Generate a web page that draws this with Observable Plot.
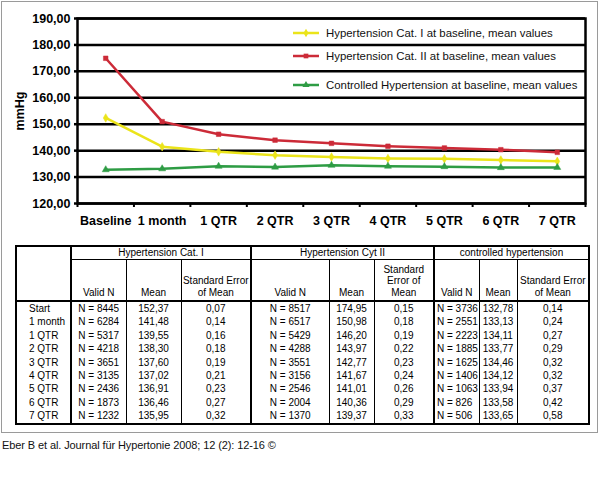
<!DOCTYPE html>
<html>
<head>
<meta charset="utf-8">
<script src="https://cdn.jsdelivr.net/npm/d3@7"></script>
<script src="https://cdn.jsdelivr.net/npm/@observablehq/plot@0.6"></script>
<style>
  html, body { margin: 0; padding: 0; background: #fff; }
  body { width: 600px; height: 494px; position: relative; overflow: hidden; font-family: "Liberation Sans", Arial, sans-serif; }
  #chart { position: absolute; left: 0; top: 0; }
  #frame { position: absolute; left: 1px; top: 1px; width: 595px; height: 430px; border: 1px solid #9a9a9a; pointer-events: none; }
  #legend { position: absolute; left: 0; top: 0; }
  .leg { position: absolute; left: 293px; height: 14px; display: flex; align-items: center; font-size: 11.4px; color: #111; white-space: nowrap; }
  .leg svg { margin-right: 7px; }
  table { position: absolute; left: 15px; top: 245px; width: 573px; border-collapse: collapse; table-layout: fixed; font-size: 10px; color: #000; border: 2px solid #000; }
  td, th { padding: 0; font-weight: normal; text-align: center; line-height: 13.4px; white-space: nowrap; }
  th.g { border-bottom: 1px solid #000; height: 12px; line-height: 12px; }
  tr.h2 th { height: 38px; vertical-align: bottom; border-bottom: 2px solid #000; white-space: normal; line-height: 11.5px; padding-bottom: 2px; }
  .lab { text-align: left; padding-left: 12px; }
  .thick { border-right: 2px solid #000; }
  .thin { border-right: 1px solid #000; }
  .left { text-align: left; padding-left: 2px; }
  #caption { position: absolute; left: 2px; top: 439px; font-size: 11px; color: #111; letter-spacing: -0.1px; }
</style>
</head>
<body>
<div id="chart"></div>
<div id="legend"></div>
<div id="table"></div>
<div id="frame"></div>
<div id="caption"></div>
<script>
// ---- data ----
const periods = ["Baseline", "1 month", "1 QTR", "2 QTR", "3 QTR", "4 QTR", "5 QTR", "6 QTR", "7 QTR"];
const rowLabels = ["Start", "1 month", "1 QTR", "2 QTR", "3 QTR", "4 QTR", "5 QTR", "6 QTR", "7 QTR"];
const seriesNames = [
  "Hypertension Cat. I at baseline, mean values",
  "Hypertension Cat. II at baseline, mean values",
  "Controlled Hypertension at baseline, mean values"
];
const seriesColors = ["#ebe41a", "#cc2b38", "#2e9c44"];
const seriesSymbols = ["diamond", "square", "triangle"];
const groupTitles = ["Hypertension Cat. I", "Hypertension Cyt II", "controlled hypertension"];

const catI_n = [8445, 6284, 5317, 4218, 3651, 3135, 2436, 1873, 1232];
const catI_mean = [152.37, 141.48, 139.55, 138.30, 137.60, 137.02, 136.91, 136.46, 135.95];
const catI_se = [0.07, 0.14, 0.16, 0.18, 0.19, 0.21, 0.23, 0.27, 0.32];

const catII_n = [8517, 6517, 5429, 4288, 3551, 3156, 2546, 2004, 1370];
const catII_mean = [174.95, 150.98, 146.20, 143.97, 142.77, 141.67, 141.01, 140.36, 139.37];
const catII_se = [0.15, 0.18, 0.19, 0.22, 0.23, 0.24, 0.26, 0.29, 0.33];

const ctrl_n = [3736, 2551, 2223, 1885, 1625, 1406, 1063, 826, 506];
const ctrl_mean = [132.78, 133.13, 134.11, 133.77, 134.46, 134.12, 133.94, 133.58, 133.65];
const ctrl_se = [0.14, 0.24, 0.27, 0.29, 0.32, 0.32, 0.37, 0.42, 0.58];

const yTicks = [120, 130, 140, 150, 160, 170, 180, 190];
const xBoundaries = [-0.5, 0.5, 1.5, 2.5, 3.5, 4.5, 5.5, 6.5, 7.5, 8.5];
const yLabel = "mmHg";
const caption = "Eber B et al. Journal für Hypertonie 2008; 12 (2): 12-16 ©";

// ---- build ----
const means = [catI_mean, catII_mean, ctrl_mean];
const rows = [];
means.forEach((arr, s) => arr.forEach((v, i) => rows.push({i, series: seriesNames[s], value: v})));
const comma = (v, d = 2) => v.toFixed(d).replace(".", ",");

const chart = Plot.plot({
  width: 600,
  height: 240,
  marginLeft: 77,
  marginRight: 15,
  marginTop: 18,
  marginBottom: 37,
  style: {fontFamily: "'Liberation Sans', Arial, sans-serif", fontSize: "12.5px", fontWeight: "bold", color: "#000", background: "transparent", overflow: "visible"},
  x: {domain: [-0.5, 8.5], axis: null},
  y: {domain: [120, 190], axis: null},
  color: {domain: seriesNames, range: seriesColors},
  symbol: {domain: seriesNames, range: seriesSymbols},
  marks: [
    Plot.gridY({ticks: yTicks, stroke: "#000", strokeOpacity: 1, strokeWidth: 2.5}),
    Plot.axisY({ticks: yTicks, tickSize: 3, tickPadding: 4, strokeWidth: 2.5, tickFormat: d => comma(d),
      label: yLabel, labelAnchor: "center", labelArrow: "none", labelOffset: 62}),
    Plot.axisX({ticks: xBoundaries, tickSize: 4, strokeWidth: 2, tickFormat: () => "", label: null}),
    Plot.axisX({ticks: d3.range(periods.length), tickSize: 0, tickPadding: 13, tickFormat: i => periods[i], label: null}),
    Plot.frame({stroke: "#000", strokeWidth: 2.5}),
    Plot.line(rows, {x: "i", y: "value", z: "series", stroke: "series", strokeWidth: 2.5}),
    Plot.dot(rows, {x: "i", y: "value", symbol: "series", fill: "series", stroke: "series", strokeWidth: 0.5, r: 2.6})
  ]
});
document.getElementById("chart").append(chart);

// legend (HTML overlay)
const legTops = [26, 49, 78];
const legend = document.getElementById("legend");
seriesNames.forEach((name, s) => {
  const div = document.createElement("div");
  div.className = "leg";
  div.style.top = legTops[s] + "px";
  const sym = d3.symbol(d3[{diamond: "symbolDiamond", square: "symbolSquare", triangle: "symbolTriangle"}[seriesSymbols[s]]], 22)();
  div.innerHTML = `<svg width="26" height="10"><line x1="0" x2="26" y1="5" y2="5" stroke="${seriesColors[s]}" stroke-width="2.5"/>` +
    `<path d="${sym}" transform="translate(13,5)" fill="${seriesColors[s]}"/></svg><span>${name}</span>`;
  legend.append(div);
});

// table
const groups = [[catI_n, catI_mean, catI_se], [catII_n, catII_mean, catII_se], [ctrl_n, ctrl_mean, ctrl_se]];
const colWidths = [55, 55, 55, 70, 78, 45, 60, 45, 38, 72];
let html = "<table><colgroup>" + colWidths.map(w => `<col style="width:${w}px">`).join("") + "</colgroup>";
html += `<tr><th rowspan="2" class="thick" style="border-bottom:2px solid #000"></th>` +
  groupTitles.map((t, g) => `<th colspan="3" class="g ${g < 2 ? "thick" : ""}">${t}</th>`).join("") + "</tr>";
html += `<tr class="h2">` +
  `<th class="thin">Valid N</th><th class="thin">Mean</th><th class="thick">Standard Error of Mean</th>` +
  `<th class="thin">Valid N</th><th class="thin">Mean</th><th class="thick">Standard Error of Mean</th>` +
  `<th class="thin">Valid N</th><th class="thin">Mean</th><th>Standard Error of Mean</th></tr>`;
rowLabels.forEach((lab, i) => {
  html += `<tr><td class="lab thick">${lab}</td>`;
  groups.forEach(([n, m, se], g) => {
    html += `<td class="thin ${g === 2 ? "left" : ""}">N = ${n[i]}</td><td class="thin">${comma(m[i])}</td><td class="${g < 2 ? "thick" : ""}">${comma(se[i])}</td>`;
  });
  html += "</tr>";
});
html += "</table>";
document.getElementById("table").innerHTML = html;
document.getElementById("caption").textContent = caption;
</script>
</body>
</html>
